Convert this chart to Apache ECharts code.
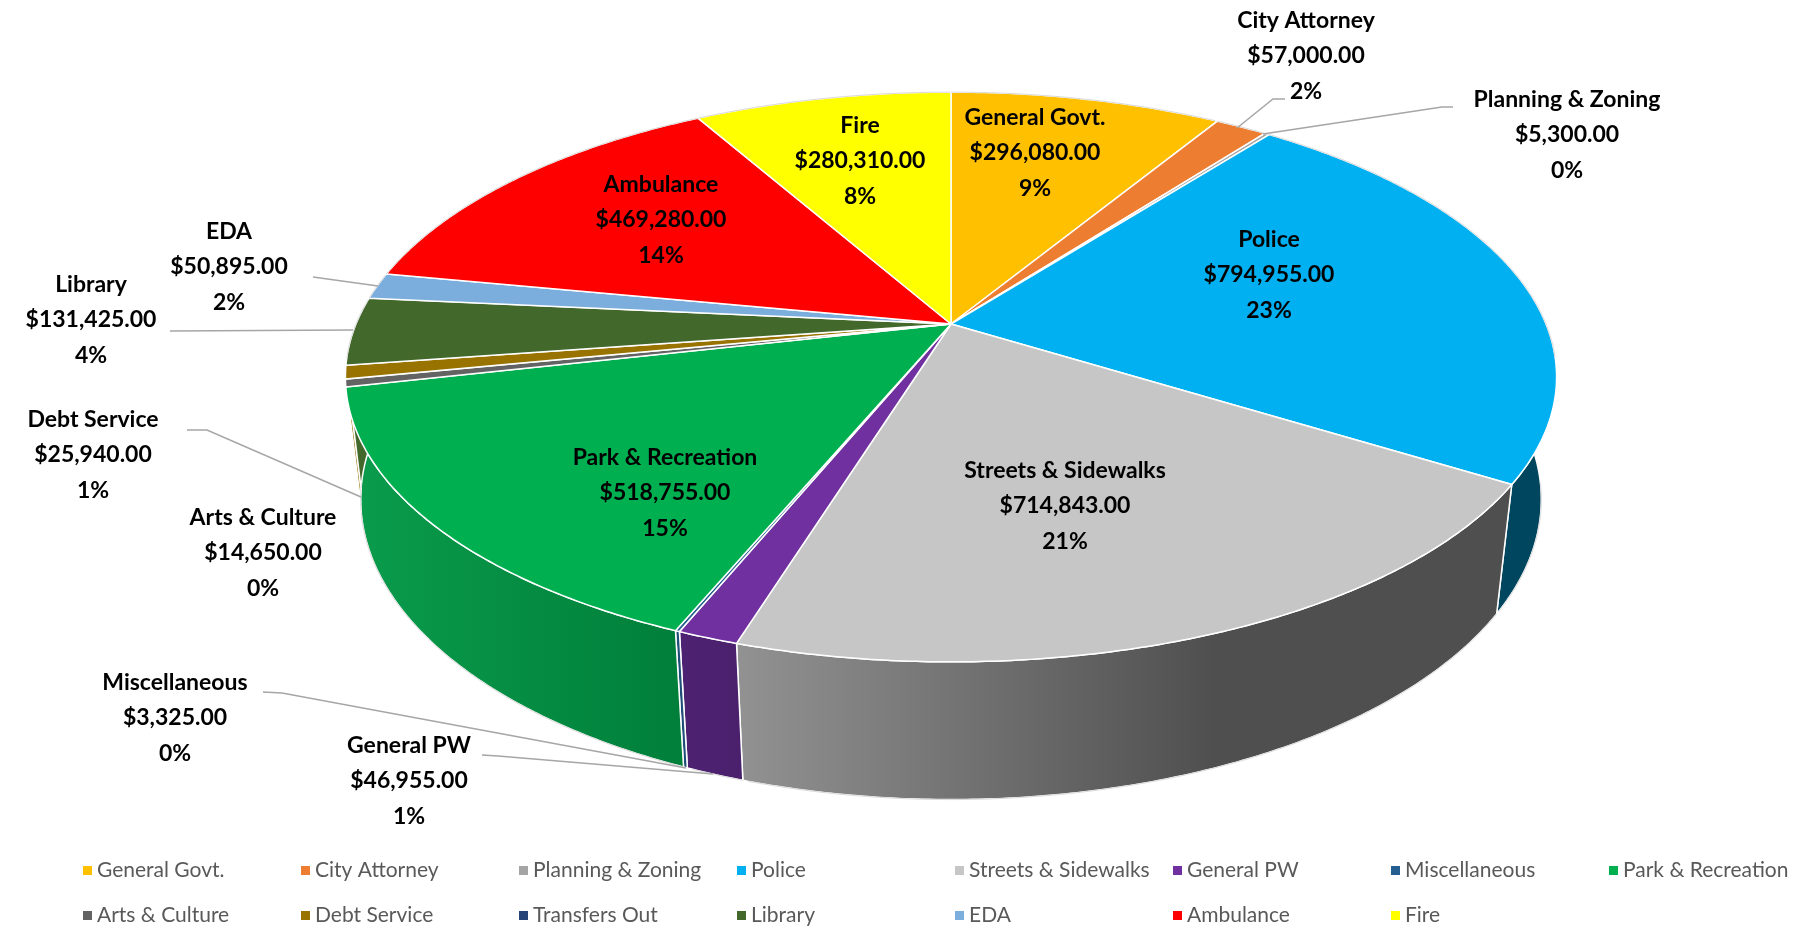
<!DOCTYPE html>
<html>
<head>
<meta charset="utf-8">
<title>Budget by department</title>
<script src="https://cdn.jsdelivr.net/npm/echarts@6/dist/echarts.min.js"></script>
<style>
  html, body { margin: 0; padding: 0; background: #fff; }
  #chart_budget_pie { width: 1807px; height: 929px; }
</style>
</head>
<body>
<div id="chart_budget_pie"></div>
<script>
const departments = ['General Govt.', 'City Attorney', 'Planning & Zoning', 'Police', 'Streets & Sidewalks', 'General PW', 'Miscellaneous', 'Park & Recreation', 'Arts & Culture', 'Debt Service', 'Transfers Out', 'Library', 'EDA', 'Ambulance', 'Fire'];
const amounts = [296080, 57000, 5300, 794955, 714843, 46955, 3325, 518755, 14650, 25940, 0, 131425, 50895, 469280, 280310];
const percents = [9, 2, 0, 23, 21, 1, 0, 15, 0, 1, 0, 4, 2, 14, 8];
const colors = ['#FFC000', '#ED7D31', '#A5A5A5', '#00B0F0', '#C6C6C6', '#7030A0', '#255E91', '#00B050', '#636363', '#997300', '#264478', '#43682B', '#7CAEDD', '#FF0000', '#FFFF00'];

// wall shading, only the slices facing the camera need it
const wallShades = {
  'Police': ['#00465F', '#00465F', 1400, 1600],
  'Streets & Sidewalks': ['#929292', '#4F4F4F', 737, 1215],
  'General PW': ['#4E2272', '#4A206C', 680, 745],
  'Miscellaneous': ['#1F4E79', '#1F4E79', 680, 690],
  'Park & Recreation': ['#0A9C4C', '#007F3A', 350, 680]
};

// label centres and leader lines, in page pixels
const labelSpots = {
  'General Govt.': [1035, 153], 'City Attorney': [1306, 56], 'Planning & Zoning': [1567, 135],
  'Police': [1269, 275], 'Streets & Sidewalks': [1065, 506], 'General PW': [409, 781],
  'Miscellaneous': [175, 718], 'Park & Recreation': [665, 493], 'Arts & Culture': [263, 553],
  'Debt Service': [93, 455], 'Library': [91, 320], 'EDA': [229, 267],
  'Ambulance': [661, 220], 'Fire': [860, 161]
};
const leaders = {
  'City Attorney': [[1237, 128], [1273, 99], [1285, 99]],
  'Planning & Zoning': [[1263, 134], [1442, 107], [1453, 107]],
  'EDA': [[313, 277], [378, 286]],
  'Library': [[170, 331], [353, 330]],
  'Debt Service': [[187, 430], [207, 430], [361, 497]],
  'Miscellaneous': [[263, 692], [282, 693], [686, 768]],
  'General PW': [[482, 755], [498, 756], [713, 774]]
};

// perspective of the pie: centre, radius, tilt, thickness
const cx = 951, cy = 324, radiusX = 595, radiusY = 275, tilt = 0.186, thick = 124, sink = 0.025;

function project(deg, low) {
  const a = deg * Math.PI / 180;
  const u = Math.sin(a), v = Math.cos(a);
  const w = 1 + tilt * v + (low ? sink : 0);
  return [cx + radiusX * u / w, cy + (-radiusY * v + (low ? thick : 0)) / w];
}

function arc(from, to, low) {
  const pts = [];
  const steps = Math.max(1, Math.ceil((to - from) * 2));
  for (let i = 0; i <= steps; i++) pts.push(project(from + (to - from) * i / steps, low));
  return pts;
}

const total = amounts.reduce((s, v) => s + v, 0);
let running = 0;
const startDeg = amounts.map(v => { const d = running / total * 360; running += v; return d; });

function money(v) {
  return '$' + v.toLocaleString('en-US', { minimumFractionDigits: 2, maximumFractionDigits: 2 });
}

function renderSlice(i, api) {
  const value = api.value(0);
  if (!value) return { type: 'group', children: [] };
  const name = departments[i];
  const from = startDeg[i], to = from + value / total * 360;
  const top = arc(from, to, false), low = arc(from, to, true);
  const shade = wallShades[name];
  const wallFill = shade
    ? new echarts.graphic.LinearGradient(shade[2], 0, shade[3], 0, [{ offset: 0, color: shade[0] }, { offset: 1, color: shade[1] }], true)
    : colors[i];
  const children = [
    {
      type: 'polygon', z2: 1, silent: true,
      shape: { points: top.concat(low.slice().reverse()) },
      style: { fill: wallFill, stroke: '#fff', lineWidth: 1.5 }
    },
    {
      type: 'polygon', z2: 5, silent: true,
      shape: { points: [[cx, cy]].concat(top) },
      style: { fill: colors[i], stroke: '#fff', lineWidth: 1.5 }
    }
  ];
  // faint rim against the white page
  const rim = [], floor = [];
  for (let d = from; d <= to; d += 0.5) {
    if (Math.cos(d * Math.PI / 180) > -0.12) rim.push(project(d, false));
    else floor.push(project(d, true));
  }
  if (rim.length > 1) children.push({ type: 'polyline', z2: 6, silent: true, shape: { points: rim }, style: { fill: null, stroke: '#d9d9d9', lineWidth: 1 } });
  if (floor.length > 1) children.push({ type: 'polyline', z2: 6, silent: true, shape: { points: floor }, style: { fill: null, stroke: '#d9d9d9', lineWidth: 1 } });

  if (leaders[name]) {
    children.push({
      type: 'polyline', z2: 7, silent: true,
      shape: { points: leaders[name] },
      style: { fill: null, stroke: '#A6A6A6', lineWidth: 1.5 }
    });
  }
  const spot = labelSpots[name];
  children.push({
    type: 'text', z2: 10, silent: true,
    x: spot[0], y: spot[1],
    style: {
      text: name + '\n' + money(value) + '\n' + percents[i] + '%',
      font: 'bold 23px Lato',
      lineHeight: 35.5,
      fill: '#000',
      align: 'center',
      verticalAlign: 'middle'
    }
  });
  return { type: 'group', children };
}

const chart = echarts.init(document.getElementById('chart_budget_pie'));
chart.setOption({
  animation: false,
  backgroundColor: '#fff',
  color: colors,
  legend: departments.map((name, i) => ({
    data: [name],
    left: 83 + (i % 8) * 218,
    top: i < 8 ? 860 : 905,
    padding: 0,
    icon: 'rect',
    itemWidth: 9,
    itemHeight: 9,
    itemGap: 0,
    selectedMode: false,
    textStyle: { color: '#595959', fontFamily: 'Lato', fontSize: 21 }
  })),
  series: departments.map((name, i) => ({
    type: 'custom',
    name,
    coordinateSystem: 'none',
    silent: true,
    data: [[amounts[i]]],
    renderItem: (params, api) => renderSlice(i, api)
  }))
});
</script>
</body>
</html>
